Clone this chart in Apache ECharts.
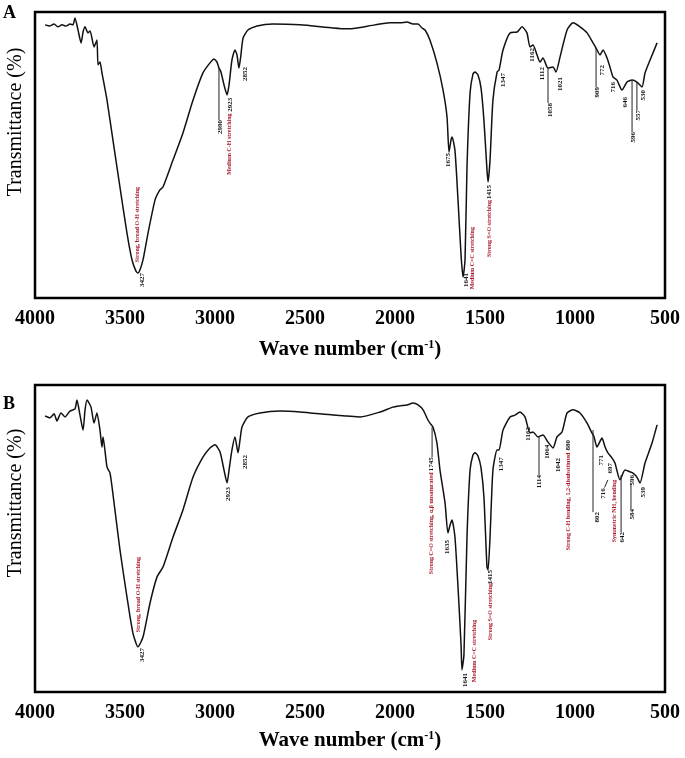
<!DOCTYPE html>
<html><head><meta charset="utf-8">
<script src="https://cdn.jsdelivr.net/npm/echarts@6/dist/echarts.min.js"></script>
<style>html,body{margin:0;padding:0;background:#fff}#c{width:685px;height:758px}</style>
</head><body><div id="c"></div>
<script>
// ---- Spectrum A: [wavenumber (cm-1), transmittance (% of plot height)]
const spectrumA = [[3944,95.5],[3917,95.1],[3894,95.8],[3872,94.8],[3850,95.5],[3828,95.1],[3806,95.8],[3789,95.5],[3778,97.9],[3761,93.7],[3744,89.2],[3733,93.0],[3722,94.8],[3706,92.7],[3694,93.4],[3672,87.8],[3656,90.2],[3650,81.5],[3639,82.5],[3628,78.7],[3600,69.2],[3567,55.2],[3528,38.8],[3489,22.7],[3461,13.3],[3439,9.4],[3428,8.7],[3417,9.8],[3400,13.3],[3372,22.7],[3333,34.3],[3306,37.8],[3289,38.8],[3233,48.3],[3178,57.7],[3122,69.2],[3067,78.7],[3028,82.2],[3006,83.6],[2989,82.5],[2978,80.4],[2967,79.0],[2950,74.5],[2933,71.0],[2922,74.5],[2906,83.2],[2889,86.7],[2878,85.0],[2867,80.4],[2856,85.0],[2844,90.9],[2817,93.7],[2767,95.1],[2678,95.8],[2528,95.5],[2344,94.4],[2267,94.1],[2211,94.4],[2111,95.5],[2028,96.2],[1972,96.2],[1933,96.5],[1900,95.8],[1872,95.8],[1850,94.4],[1833,93.7],[1806,90.2],[1767,82.2],[1733,72.7],[1711,63.3],[1700,51.0],[1689,55.2],[1683,56.3],[1667,51.7],[1650,34.3],[1633,15.0],[1622,7.3],[1611,13.3],[1600,45.8],[1583,71.7],[1567,78.3],[1556,79.0],[1539,78.0],[1522,73.4],[1506,62.2],[1489,44.8],[1483,40.6],[1472,48.3],[1456,69.2],[1433,79.0],[1422,79.7],[1400,86.7],[1361,92.7],[1322,93.0],[1294,94.8],[1267,92.7],[1250,87.8],[1233,88.5],[1211,85.0],[1194,82.5],[1178,83.9],[1150,80.4],[1122,80.8],[1106,79.0],[1083,84.3],[1044,93.7],[1011,96.2],[972,94.8],[933,92.7],[900,89.2],[883,87.4],[861,85.0],[844,86.7],[822,83.9],[806,80.8],[789,77.3],[767,76.2],[739,72.7],[711,75.5],[683,76.2],[656,75.5],[628,73.8],[611,78.7],[583,83.2],[544,89.2]];

// ---- Spectrum B
const spectrumB = [[3944,89.9],[3917,89.3],[3894,90.6],[3878,88.3],[3856,90.9],[3833,89.6],[3806,91.5],[3778,92.2],[3767,95.1],[3750,90.2],[3733,85.3],[3722,91.9],[3711,95.1],[3689,92.8],[3672,87.6],[3656,90.9],[3639,85.3],[3628,79.8],[3622,83.1],[3600,73.3],[3583,71.3],[3556,59.3],[3528,46.3],[3489,30.9],[3456,19.2],[3428,14.7],[3400,17.9],[3361,29.0],[3322,37.5],[3289,40.7],[3233,50.5],[3178,59.3],[3122,70.0],[3067,76.5],[3028,79.5],[3000,80.5],[2972,78.2],[2950,72.3],[2933,68.1],[2922,72.3],[2906,78.8],[2889,83.1],[2872,77.9],[2861,82.1],[2850,86.3],[2817,89.6],[2750,90.9],[2639,91.5],[2528,91.2],[2344,90.2],[2267,89.9],[2194,89.6],[2083,91.2],[2011,92.8],[1972,93.2],[1933,93.5],[1900,94.1],[1872,93.5],[1844,91.9],[1817,88.6],[1806,87.6],[1789,86.3],[1767,81.1],[1750,72.3],[1722,61.6],[1706,51.8],[1694,54.4],[1683,56.0],[1667,50.5],[1650,34.2],[1633,15.3],[1628,7.2],[1617,12.1],[1600,50.5],[1583,72.3],[1567,77.2],[1556,77.9],[1539,76.9],[1522,73.0],[1506,63.5],[1489,40.7],[1483,39.7],[1472,50.5],[1456,72.3],[1433,78.8],[1422,78.8],[1400,85.3],[1361,89.6],[1333,90.2],[1306,91.2],[1278,89.6],[1250,84.4],[1233,84.7],[1206,83.1],[1178,83.7],[1150,81.4],[1122,79.5],[1100,83.1],[1072,84.7],[1044,90.9],[1011,91.9],[972,90.9],[933,87.6],[906,84.4],[894,83.1],[878,79.8],[850,82.7],[833,79.8],[817,77.9],[794,76.2],[778,74.6],[750,69.1],[722,72.3],[694,71.7],[678,71.3],[656,70.0],[639,68.1],[611,74.6],[572,81.1],[544,87.0]];

// ---- Peak number labels [wn, T at label top, text]
const peakLabelsA = [[3406,8.7,'3427'],[2972,62.2,'2990'],[2917,70.0,'2923'],[2833,80.8,'2852'],[1706,50.7,'1675'],[1606,8.7,'1641'],[1478,39.5,'1415'],[1400,78.7,'1347'],[1239,87.4,'1162'],[1183,80.8,'1112'],[1139,68.2,'1058'],[1083,77.3,'1021'],[878,73.8,'909'],[850,81.5,'772'],[789,75.5,'716'],[722,70.3,'646'],[678,58.0,'596'],[650,65.7,'557'],[622,72.7,'530']];
const bandLabelsA = [[3433,38.8,'Strong, broad O-H stretching'],[2917,64.5,'Medium C-H stretching'],[1567,24.8,'Medium C=C stretching'],[1478,34.3,'Strong S=O stretching']];
const leadersA = [[2978,80.4,2978,62.2],[1150,80.4,1150,68.2],[883,87.4,883,73.8],[683,76.2,683,58.0],[656,75.5,656,65.7]];

const peakLabelsB = [[3406,14.3,'3427'],[2928,66.8,'2923'],[2833,77.2,'2852'],[1800,76.5,'1745'],[1711,49.5,'1635'],[1611,6.2,'1641'],[1472,39.7,'1415'],[1411,76.5,'1347'],[1261,86.3,'1162'],[1200,70.7,'1114'],[1156,80.5,'1064'],[1094,76.2,'1042'],[1039,82.1,'880'],[878,58.6,'802'],[856,77.2,'771'],[844,66.4,'716'],[806,74.6,'697'],[739,52.1,'642'],[683,70.7,'596'],[683,59.6,'584'],[622,66.8,'539']];
const bandLabelsB = [[3428,44.0,'Strong, broad O-H stretching'],[1800,71.5,'Strong C=O stretching, α,β unsaturated'],[1556,23.5,'Medium C=C stretching'],[1472,35.5,'Strong S=O stretching'],[1039,78.0,'Strong C-H bending, 1,2-disubstituted'],[783,69.1,'Symmetric NH₃ bending']];
const leadersB = [[1794,86.3,1794,76.5],[1200,83.1,1200,70.7],[900,85.3,900,58.6],[744,70.7,744,52.1],[689,67.8,689,59.6],[817,69.1,836,66.6]];

const xTickMin = 500, xTickMax = 4000, xTickStep = 500;

const SERIF = '"Liberation Serif","Times New Roman",serif';
const RED = '#a8192b';

function textSeries(idx, items, color, size) {
  return {
    type: 'custom', xAxisIndex: idx, yAxisIndex: idx, silent: true, z: 5,
    data: items.map(d => [d[0], d[1]]),
    renderItem: (params, api) => {
      const p = api.coord([api.value(0), api.value(1)]);
      return { type: 'text', x: p[0], y: p[1], rotation: Math.PI / 2,
        style: { text: items[params.dataIndex][2], textAlign: 'right', textVerticalAlign: 'middle',
                 fill: color, font: 'bold ' + size + 'px ' + SERIF } };
    }
  };
}
function leaderSeries(idx, items) {
  return {
    type: 'custom', xAxisIndex: idx, yAxisIndex: idx, silent: true, z: 4,
    data: items,
    renderItem: (params, api) => {
      const p1 = api.coord([api.value(0), api.value(1)]);
      const p2 = api.coord([api.value(2), api.value(3)]);
      return { type: 'line', shape: { x1: p1[0], y1: p1[1], x2: p2[0], y2: p2[1] },
               style: { stroke: '#222', lineWidth: 1 } };
    }
  };
}
function xAxisFor(idx, gap) {
  return {
    type: 'value', gridIndex: idx, min: xTickMin, max: xTickMax, interval: xTickStep, inverse: true,
    axisLine: { show: false }, axisTick: { show: false }, splitLine: { show: false },
    axisLabel: { color: '#000', fontFamily: SERIF, fontWeight: 'bold', fontSize: 20, margin: 11,
                 formatter: v => String(v) },
    name: '{a|Wave number (cm}{s|-1}{a|)}', nameLocation: 'middle', nameGap: gap,
    nameTextStyle: { rich: {
      a: { fontFamily: SERIF, fontWeight: 'bold', fontSize: 21, color: '#000' },
      s: { fontFamily: SERIF, fontWeight: 'bold', fontSize: 12, color: '#000', verticalAlign: 'top' }
    } }
  };
}
function lineSeries(idx, data) {
  return { type: 'line', xAxisIndex: idx, yAxisIndex: idx, data, symbol: 'none', smooth: 0.2,
           lineStyle: { color: '#111', width: 1.5 }, z: 3, silent: true };
}

const chart = echarts.init(document.getElementById('c'), null, { renderer: 'canvas' });
chart.setOption({
  animation: false,
  backgroundColor: '#fff',
  grid: [
    { left: 35, top: 12, width: 630, height: 286, show: true, borderColor: '#000', borderWidth: 2.5, backgroundColor: 'transparent' },
    { left: 35, top: 385, width: 630, height: 307, show: true, borderColor: '#000', borderWidth: 2.5, backgroundColor: 'transparent' }
  ],
  xAxis: [xAxisFor(0, 41), xAxisFor(1, 38)],
  yAxis: [
    { type: 'value', gridIndex: 0, min: 0, max: 100, show: false },
    { type: 'value', gridIndex: 1, min: 0, max: 100, show: false }
  ],
  graphic: [
    { type: 'text', x: 3, y: 4, style: { text: 'A', font: 'bold 18px ' + SERIF, fill: '#000' } },
    { type: 'text', x: 3, y: 395, style: { text: 'B', font: 'bold 18px ' + SERIF, fill: '#000' } },
    { type: 'text', x: 16, y: 122, rotation: Math.PI / 2,
      style: { text: 'Transmittance (%)', font: '20px ' + SERIF, fill: '#000', textAlign: 'center', textVerticalAlign: 'middle' } },
    { type: 'text', x: 16, y: 503, rotation: Math.PI / 2,
      style: { text: 'Transmittance (%)', font: '20px ' + SERIF, fill: '#000', textAlign: 'center', textVerticalAlign: 'middle' } }
  ],
  series: [
    lineSeries(0, spectrumA),
    leaderSeries(0, leadersA),
    textSeries(0, peakLabelsA, '#111', 7),
    textSeries(0, bandLabelsA, RED, 6),
    lineSeries(1, spectrumB),
    leaderSeries(1, leadersB),
    textSeries(1, peakLabelsB, '#111', 7),
    textSeries(1, bandLabelsB, RED, 6)
  ]
});
</script></body></html>
